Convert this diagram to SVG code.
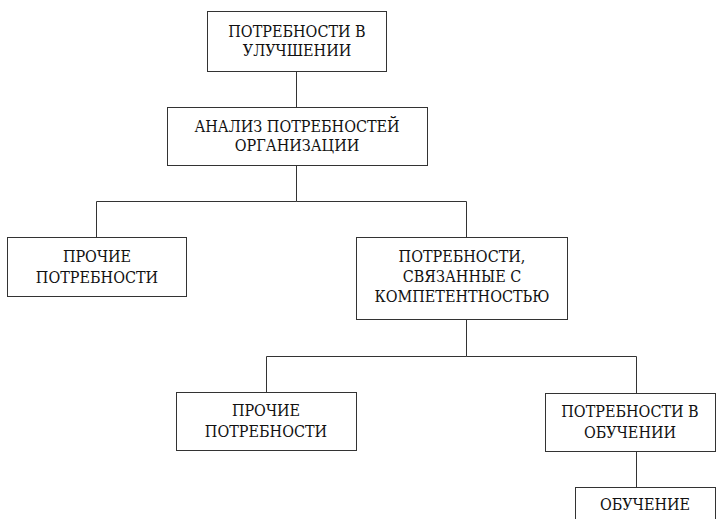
<svg xmlns="http://www.w3.org/2000/svg" width="719" height="519" viewBox="0 0 719 519">
<style>
.box{fill:#fff;stroke:#333;stroke-width:1}
.ln{fill:none;stroke:#333;stroke-width:1}
.t{font-family:"DejaVu Serif Condensed","DejaVu Serif",serif;font-size:16px;fill:#111;text-anchor:middle}
</style>
<rect width="719" height="519" fill="#fff"/>
<g id="connectors">
<path class="ln" d="M296.5 71V107.5"/>
<path class="ln" d="M296.5 165.5V201.5H96.5V237.5M296.5 201.5H466.5V237.5"/>
<path class="ln" d="M466.5 319.5V356.5H266.5V392.5M466.5 356.5H636.5V393.5"/>
<path class="ln" d="M636.5 451.5V487.5"/>
</g>
<g id="n1"><rect class="box" x="207.5" y="11.5" width="179" height="60"/><text class="t" x="297" y="37">ПОТРЕБНОСТИ В</text><text class="t" x="297" y="56">УЛУЧШЕНИИ</text></g>
<g id="n2"><rect class="box" x="167.5" y="107.5" width="260" height="58"/><text class="t" x="297" y="132">АНАЛИЗ ПОТРЕБНОСТЕЙ</text><text class="t" x="297" y="151">ОРГАНИЗАЦИИ</text></g>
<g id="n3"><rect class="box" x="7.5" y="237.5" width="179" height="59"/><text class="t" x="97" y="262">ПРОЧИЕ</text><text class="t" x="97" y="283">ПОТРЕБНОСТИ</text></g>
<g id="n4"><rect class="box" x="356.5" y="237.5" width="211" height="82"/><text class="t" x="462" y="262">ПОТРЕБНОСТИ,</text><text class="t" x="462" y="282">СВЯЗАННЫЕ С</text><text class="t" x="462" y="302">КОМПЕТЕНТНОСТЬЮ</text></g>
<g id="n5"><rect class="box" x="176.5" y="392.5" width="180" height="58"/><text class="t" x="266" y="416">ПРОЧИЕ</text><text class="t" x="266" y="437">ПОТРЕБНОСТИ</text></g>
<g id="n6"><rect class="box" x="545.5" y="393.5" width="170" height="58"/><text class="t" x="630" y="417">ПОТРЕБНОСТИ В</text><text class="t" x="630" y="438">ОБУЧЕНИИ</text></g>
<g id="n7"><rect class="box" x="575.5" y="487.5" width="140" height="40"/><text class="t" x="645" y="510">ОБУЧЕНИЕ</text></g>
</svg>
